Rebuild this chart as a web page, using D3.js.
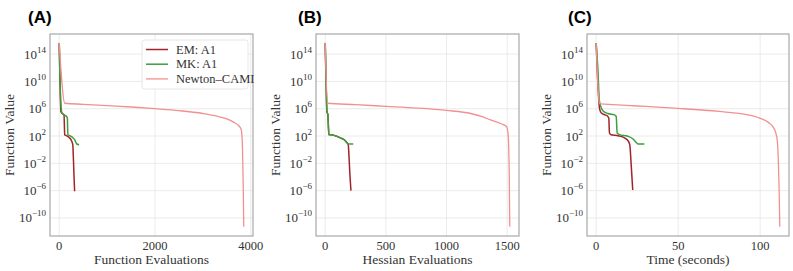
<!DOCTYPE html>
<html><head><meta charset="utf-8">
<script src="https://cdn.jsdelivr.net/npm/d3@7"></script>
<style>
html,body{margin:0;padding:0;background:#fff;}
svg{display:block;}
</style>
</head><body>
<svg id="chart" width="793" height="271"></svg>
<script>
// ---- data (function values stored as log10 exponents) ----
const seriesNames = ["EM: A1", "MK: A1", "Newton\u2013CAMI"];
const panelTitles = ["(A)", "(B)", "(C)"];
const xAxisLabels = ["Function Evaluations", "Hessian Evaluations", "Time (seconds)"];
const xTicksA = [0, 2000, 4000];
const xTicksB = [0, 500, 1000, 1500];
const xTicksC = [0, 50, 100];
const yTickExponents = [14, 10, 6, 2, -2, -6, -10];

// Panel A: function evaluations
const emA_x = [0, 10, 35, 70, 100, 108, 114, 139, 207, 257, 284, 292, 302, 312, 322];
const emA_y = [15.6, 12.4, 5.6, 5.26, 5.1, 3.5, 2.2, 2.1, 1.8, 1.3, 0.7, -0.5, -2.5, -4.5, -6.1];
const mkA_x = [0, 8, 35, 56, 104, 153, 170, 176, 182, 207, 278, 325, 367, 415];
const mkA_y = [15.6, 12.7, 6.6, 5.4, 5.1, 4.87, 4.6, 3.0, 2.2, 2.1, 1.8, 1.45, 0.83, 0.73];
const ncA_x = [0, 118, 500, 1000, 1500, 2000, 2500, 3000, 3300, 3500, 3650, 3750, 3800, 3815, 3825, 3835, 3845, 3855];
const ncA_y = [15.6, 6.8, 6.65, 6.45, 6.25, 6.0, 5.72, 5.3, 4.9, 4.5, 4.0, 3.5, 3.0, 2.2, 1.0, -2, -6, -11.3];

// Panel B: Hessian evaluations
const emB_x = [0, 7, 14, 22, 26, 30, 47, 88, 129, 157, 176, 190, 196, 203, 212];
const emB_y = [15.6, 10, 5.6, 5.1, 3.5, 2.2, 2.2, 2.0, 1.7, 1.45, 1.1, 0.7, -1, -3.5, -6.0];
const mkB_x = [0, 7, 14, 22, 26, 30, 47, 88, 129, 157, 176, 190, 205, 231];
const mkB_y = [15.6, 10, 5.6, 5.1, 3.5, 2.2, 2.2, 2.0, 1.7, 1.45, 1.05, 0.85, 0.83, 0.83];
const ncB_x = [0, 20, 250, 500, 750, 1000, 1200, 1300, 1357, 1450, 1494, 1505, 1510, 1514, 1517, 1519, 1521];
const ncB_y = [15.6, 6.8, 6.6, 6.35, 6.1, 5.75, 5.3, 4.8, 4.4, 3.8, 3.4, 2.6, 1.5, -1, -4, -8, -11.3];

// Panel C: time (seconds)
const emC_x = [0, 0.6, 1.4, 2.0, 3.0, 5.3, 6.7, 7.7, 8.1, 9.0, 13.4, 17.5, 19.5, 20.5, 21.3, 22.3];
const emC_y = [15.6, 11.95, 8.0, 6.1, 5.4, 5.1, 4.97, 4.6, 2.44, 2.2, 2.04, 1.7, 1.3, 0.7, -2, -5.9];
const mkC_x = [0, 1.0, 2.0, 4.1, 7.1, 11.2, 12.2, 12.8, 14.2, 19.3, 22.3, 24.3, 25.4, 29.4];
const mkC_y = [15.6, 11.95, 7.06, 5.7, 5.3, 5.1, 4.87, 2.44, 2.2, 1.97, 1.6, 1.1, 0.83, 0.83];
const ncC_x = [0, 0.5, 1, 1.5, 2, 3, 10, 25, 50, 75, 90, 100, 105, 108, 109.5, 110.5, 111, 111.5, 112];
const ncC_y = [15.6, 12.5, 9.5, 7.8, 6.8, 6.7, 6.6, 6.4, 6.05, 5.6, 5.2, 4.6, 4.0, 3.3, 2.5, 1.2, -1, -5, -11.3];

const colors = ["#a3232a", "#3d9e3d", "#f29090"];
const widths = [1.5, 1.5, 1.3];

// ---- layout ----
const panels = [
  {title: panelTitles[0], xLabel: xAxisLabels[0], ticks: xTicksA, left: 50, right: 253, titleX: 28, yLabelX: 9,
   series: [[emA_x, emA_y], [mkA_x, mkA_y], [ncA_x, ncA_y]], legend: true},
  {title: panelTitles[1], xLabel: xAxisLabels[1], ticks: xTicksB, left: 316, right: 519, titleX: 298, yLabelX: 275,
   series: [[emB_x, emB_y], [mkB_x, mkB_y], [ncB_x, ncB_y]], legend: false},
  {title: panelTitles[2], xLabel: xAxisLabels[2], ticks: xTicksC, left: 587, right: 789, titleX: 568, yLabelX: 546,
   series: [[emC_x, emC_y], [mkC_x, mkC_y], [ncC_x, ncC_y]], legend: false}
];
const plotTop = 34, plotBottom = 236;
const serif = "'Liberation Serif','DejaVu Serif',serif";
const textColor = "#333";

const svg = d3.select("#chart");

// y domain from all data with 5% padding (log space)
const allExp = panels.flatMap(p => p.series.flatMap(s => s[1]));
const eMin = d3.min(allExp), eMax = d3.max(allExp);
const ePad = (eMax - eMin) * 0.05;
const y = d3.scaleLog().domain([10 ** (eMin - ePad), 10 ** (eMax + ePad)]).range([plotBottom, plotTop]);

panels.forEach(p => {
  const allX = p.series.flatMap(s => s[0]);
  const xMin = d3.min(allX), xMax = d3.max(allX);
  const xPad = (xMax - xMin) * 0.05;
  const x = d3.scaleLinear().domain([xMin - xPad, xMax + xPad]).range([p.left, p.right]);
  const g = svg.append("g");

  // grid
  g.selectAll(".gx").data(p.ticks).join("line")
    .attr("x1", d => x(d)).attr("x2", d => x(d)).attr("y1", plotTop).attr("y2", plotBottom)
    .attr("stroke", "#e6e6e6").attr("stroke-width", 0.8);
  g.selectAll(".gy").data(yTickExponents).join("line")
    .attr("x1", p.left).attr("x2", p.right).attr("y1", d => y(10 ** d)).attr("y2", d => y(10 ** d))
    .attr("stroke", "#e6e6e6").attr("stroke-width", 0.8);

  // lines
  const line = d3.line().x(d => x(d[0])).y(d => y(10 ** d[1])).curve(d3.curveMonotoneX);
  p.series.forEach((s, i) => {
    const pts = s[0].map((v, k) => [v, s[1][k]]);
    g.append("path").datum(pts).attr("d", line)
      .attr("fill", "none").attr("stroke", colors[i]).attr("stroke-width", widths[i])
      .attr("stroke-linejoin", "round").attr("stroke-linecap", "butt");
  });

  // frame
  g.append("rect").attr("x", p.left).attr("y", plotTop).attr("width", p.right - p.left).attr("height", plotBottom - plotTop)
    .attr("fill", "none").attr("stroke", "#a8a8a8").attr("stroke-width", 1.2);

  // x tick labels
  g.selectAll(".xt").data(p.ticks).join("text")
    .attr("x", d => x(d)).attr("y", 250)
    .attr("text-anchor", "middle").attr("font-family", serif).attr("font-size", 12.5).attr("fill", textColor)
    .text(d => d);

  // y tick labels
  yTickExponents.forEach(e => {
    const t = g.append("text").attr("x", p.left - 4).attr("y", y(10 ** e) + 4.5)
      .attr("text-anchor", "end").attr("font-family", serif).attr("font-size", 13).attr("fill", textColor);
    t.append("tspan").text("10");
    t.append("tspan").attr("dy", -6).attr("font-size", 9).text(e < 0 ? "\u2212" + Math.abs(e) : String(e));
  });

  // axis labels
  g.append("text").attr("x", (p.left + p.right) / 2).attr("y", 263.5)
    .attr("text-anchor", "middle").attr("font-family", serif).attr("font-size", 13.5).attr("fill", textColor)
    .text(p.xLabel);
  g.append("text").attr("transform", `translate(${p.yLabelX + 4.5},${(plotTop + plotBottom) / 2}) rotate(-90)`)
    .attr("text-anchor", "middle").attr("font-family", serif).attr("font-size", 13.5).attr("fill", textColor)
    .text("Function Value");

  // panel title
  g.append("text").attr("x", p.titleX).attr("y", 23)
    .attr("font-family", "'Liberation Sans',Arial,sans-serif").attr("font-weight", "bold").attr("font-size", 17)
    .attr("fill", "#000").text(p.title);

  // legend
  if (p.legend) {
    const lg = g.append("g");
    lg.append("rect").attr("x", 142).attr("y", 40).attr("width", 106).attr("height", 49).attr("rx", 2.5)
      .attr("fill", "#fff").attr("fill-opacity", 0.85).attr("stroke", "#e0e0e0").attr("stroke-width", 0.8);
    seriesNames.forEach((n, i) => {
      const yy = 49.5 + i * 14.7;
      lg.append("line").attr("x1", 146).attr("x2", 168).attr("y1", yy).attr("y2", yy)
        .attr("stroke", colors[i]).attr("stroke-width", widths[i]);
      lg.append("text").attr("x", 176).attr("y", yy + 4).attr("font-family", serif).attr("font-size", 12.5)
        .attr("fill", textColor).text(n);
    });
  }
});
</script>
</body></html>
